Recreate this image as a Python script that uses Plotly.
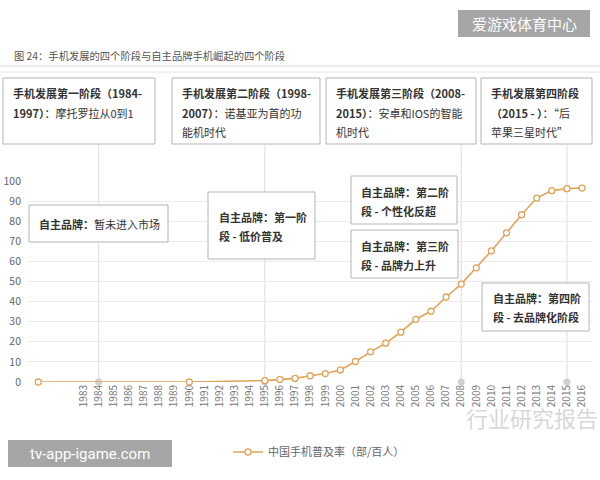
import plotly.graph_objects as go

# ---- data ----
years = [1980, 1990, 1995, 1996, 1997, 1998, 1999, 2000, 2001, 2002, 2003, 2004,
         2005, 2006, 2007, 2008, 2009, 2010, 2011, 2012, 2013, 2014, 2015, 2016]
penetration = [0, 0, 0.7, 1.3, 1.8, 3.1, 4.2, 6.0, 10.2, 15.0, 19.3, 24.8,
               31.2, 35.2, 42.3, 48.7, 56.8, 65.2, 74.2, 83.2, 91.5, 95.2, 96.2, 96.5]
tick_years = list(range(1983, 2017))
stage_years = [1984, 1995, 2008, 2015]
series_name = "中国手机普及率（部/百人）"
title_text = "图 24：手机发展的四个阶段与自主品牌手机崛起的四个阶段"

top_boxes = [
    ["<b>手机发展第一阶段（1984-</b>", "<b>1997）</b>：摩托罗拉从0到1"],
    ["<b>手机发展第二阶段（1998-</b>", "<b>2007）</b>：诺基亚为首的功", "能机时代"],
    ["<b>手机发展第三阶段（2008-</b>", "<b>2015）</b>：安卓和IOS的智能", "机时代"],
    ["<b>手机发展第四阶段</b>", "<b>（2015 - ）</b>：“后", "苹果三星时代”"],
]
brand_boxes = [
    ["<b>自主品牌：</b>暂未进入市场"],
    ["<b>自主品牌：第一阶</b>", "<b>段 - 低价普及</b>"],
    ["<b>自主品牌：第二阶</b>", "<b>段 - 个性化反超</b>"],
    ["<b>自主品牌：第三阶</b>", "<b>段 - 品牌力上升</b>"],
    ["<b>自主品牌：第四阶</b>", "<b>段 - 去品牌化阶段</b>"],
]

# ---- layout geometry (pixels) ----
FW, FH = 600, 480
L, R, T, B = 28, 592, 181, 382
W, H = R - L, B - T
def px(x): return (x - L) / W
def py(y): return (B - y) / H

FONT = "Noto Sans CJK SC"
LINE_C = "#e0a45a"

fig = go.Figure()

fig.add_trace(go.Scatter(x=stage_years, y=[0] * len(stage_years), mode="markers",
                         marker=dict(color="#d0d0d0", size=7), showlegend=False,
                         hoverinfo="skip", cliponaxis=False))
fig.add_trace(go.Scatter(x=years, y=penetration, mode="lines+markers", name=series_name,
                         line=dict(color=LINE_C, width=1.6),
                         marker=dict(symbol="circle", size=6, color="white",
                                     line=dict(color=LINE_C, width=1.3)),
                         cliponaxis=False))

shapes = []
annotations = []

for yv in stage_years:
    shapes.append(dict(type="line", xref="x", yref="paper", x0=yv, x1=yv,
                       y0=0, y1=py(145), line=dict(color="#dcdcdc", width=1), layer="below"))

shapes.append(dict(type="line", xref="paper", yref="paper", x0=px(0), x1=px(600),
                   y0=py(66), y1=py(66), line=dict(color="#d8d8d8", width=1)))
shapes.append(dict(type="line", xref="paper", yref="paper", x0=px(0), x1=px(600),
                   y0=py(72), y1=py(72), line=dict(color="#e4e4e4", width=1)))

def box(x0, y0, x1, y1, lines, ys, tx, size=11):
    shapes.append(dict(type="rect", xref="paper", yref="paper",
                       x0=px(x0), x1=px(x1), y0=py(y0), y1=py(y1),
                       fillcolor="white", line=dict(color="#b4b4b4", width=1), layer="above"))
    for t, yy in zip(lines, ys):
        annotations.append(dict(xref="paper", yref="paper", x=px(tx), y=py(yy),
                                xanchor="left", yanchor="middle", showarrow=False,
                                text=t, font=dict(family=FONT, size=size, color="#333")))

top_geo = [(3, 155), (172, 320), (326, 476), (481, 592)]
for (x0, x1), lines in zip(top_geo, top_boxes):
    box(x0, 78, x1, 144, lines, [93, 113, 132][:len(lines)], x0 + 8)

brand_geo = [
    (29, 205, 168, 242, [224], 37),
    (208, 192, 315, 259, [217, 236], 217),
    (351, 176, 457, 224, [192, 211], 359),
    (351, 230, 458, 278, [246, 265], 359),
    (482, 283, 589, 331, [298, 317], 491),
]
for (x0, y0, x1, y1, ys, tx), lines in zip(brand_geo, brand_boxes):
    box(x0, y0, x1, y1, lines, ys, tx)

annotations.append(dict(xref="paper", yref="paper", x=px(12), y=py(55), xanchor="left",
                        yanchor="middle", showarrow=False, text=title_text,
                        font=dict(family=FONT, size=10.3, color="#555")))

shapes.append(dict(type="rect", xref="paper", yref="paper", x0=px(458), x1=px(590),
                   y0=py(10), y1=py(37), fillcolor="#a6a6a6", line=dict(width=0)))
annotations.append(dict(xref="paper", yref="paper", x=px(524), y=py(23.5), xanchor="center",
                        yanchor="middle", showarrow=False, text="爱游戏体育中心",
                        font=dict(family=FONT, size=15, color="white")))
shapes.append(dict(type="rect", xref="paper", yref="paper", x0=px(8), x1=px(172),
                   y0=py(440), y1=py(467), fillcolor="#a6a6a6", line=dict(width=0)))
annotations.append(dict(xref="paper", yref="paper", x=px(90), y=py(453.5), xanchor="center",
                        yanchor="middle", showarrow=False, text="tv-app-igame.com",
                        font=dict(family="Roboto", size=15, color="white")))
annotations.append(dict(xref="paper", yref="paper", x=px(532), y=py(417), xanchor="center",
                        yanchor="middle", showarrow=False, text="行业研究报告",
                        font=dict(family=FONT, size=22, color="rgba(150,150,150,0.4)")))

fig.update_layout(
    width=FW, height=FH,
    margin=dict(l=L, r=FW - R, t=T, b=FH - B),
    paper_bgcolor="white", plot_bgcolor="white",
    font=dict(family=FONT, color="#666"),
    xaxis=dict(range=[1979.32, 2016.66], tickmode="array", tickvals=tick_years,
               ticktext=[str(y) for y in tick_years], tickangle=-90,
               tickfont=dict(size=10, color="#777"), showgrid=False, zeroline=False,
               showline=False, ticks="", automargin=False),
    yaxis=dict(range=[0, 100], tickmode="array", tickvals=list(range(0, 101, 10)),
               tickfont=dict(size=10.5, color="#666"), gridcolor="#ebebeb", gridwidth=1,
               zeroline=False, showline=False, ticks="", ticklabelstandoff=6,
               automargin=False),
    legend=dict(orientation="h", x=px(319), xanchor="center", y=py(452), yanchor="middle",
                font=dict(size=11, color="#666"), bgcolor="rgba(0,0,0,0)"),
    shapes=shapes, annotations=annotations,
)

fig.write_html("out.html", config={"displayModeBar": False},
               post_script="document.body.style.margin='0';")
